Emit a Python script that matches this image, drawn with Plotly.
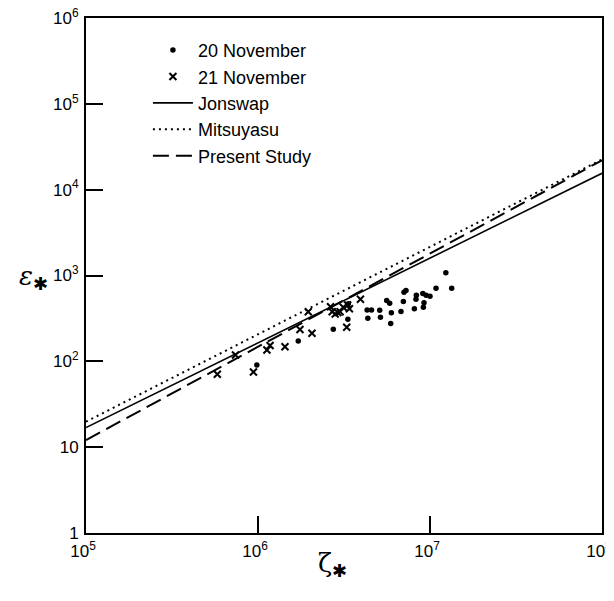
import plotly.graph_objects as go

# ---- data ----
nov20_x = [9.84e5, 1.714e6, 2.74e6, 3.35e6, 3.33e6, 4.31e6, 4.57e6, 4.35e6, 5.10e6, 5.15e6,
           5.60e6, 5.83e6, 5.96e6, 5.91e6, 6.78e6, 7.00e6, 7.06e6, 7.25e6, 8.11e6, 8.33e6,
           8.29e6, 9.08e6, 9.49e6, 1.0e7, 9.23e6, 9.15e6, 1.084e7, 1.337e7, 1.236e7]
nov20_y = [90.7, 172.6, 236, 468, 309, 396, 396, 317, 394, 327,
           511, 476, 369, 276, 381, 498, 637, 669, 409, 590,
           528, 617, 590, 574, 482, 426, 711, 711, 1079]

nov21_x = [5.80e5, 7.40e5, 9.41e5, 1.127e6, 1.175e6, 1.435e6, 1.754e6, 1.96e6, 2.06e6, 2.64e6,
           2.70e6, 2.81e6, 2.91e6, 3.00e6, 3.13e6, 3.32e6, 3.40e6, 3.28e6, 3.94e6]
nov21_y = [70.6, 118.6, 75.1, 135.6, 153, 148.2, 235, 378.7, 212.3, 433,
           378.7, 356, 369, 378.7, 426, 453, 409, 249, 528]

line_x = [1e5, 1e8]
jonswap_y = [16.9, 1.55e4]
mitsuyasu_y = [19.8, 2.25e4]
present_y = [12.1, 2.2e4]

x_tickvals = [1e5, 1e6, 1e7, 1e8]
x_ticktext = ["10<sup>5</sup>", "10<sup>6</sup>", "10<sup>7</sup>", "10<sup>8</sup>"]
y_tickvals = [1, 10, 1e2, 1e3, 1e4, 1e5, 1e6]
y_ticktext = ["1", "10", "10<sup>2</sup>", "10<sup>3</sup>", "10<sup>4</sup>", "10<sup>5</sup>", "10<sup>6</sup>"]

FONT = "Liberation Sans, Arial, Helvetica, sans-serif"

fig = go.Figure()
fig.add_trace(go.Scatter(x=nov20_x, y=nov20_y, mode="markers", name="20 November",
                         marker=dict(symbol="circle", size=5.5, color="black")))
fig.add_trace(go.Scatter(x=nov21_x, y=nov21_y, mode="markers", name="21 November",
                         marker=dict(symbol="x-thin", size=7, color="black",
                                     line=dict(width=2, color="black"))))
fig.add_trace(go.Scatter(x=line_x, y=jonswap_y, mode="lines", name="Jonswap",
                         line=dict(color="black", width=1.6)))
fig.add_trace(go.Scatter(x=line_x, y=mitsuyasu_y, mode="lines", name="Mitsuyasu",
                         line=dict(color="black", width=2, dash="2px,4px")))
fig.add_trace(go.Scatter(x=line_x, y=present_y, mode="lines", name="Present Study",
                         line=dict(color="black", width=2, dash="16px,7px")))

axis_common = dict(type="log", showgrid=False, zeroline=False, showline=True,
                   linecolor="black", linewidth=2, mirror=True, automargin=False,
                   ticks="inside", ticklen=17, tickwidth=1.6, tickcolor="black",
                   ticklabeloverflow="allow",
                   tickfont=dict(family=FONT, size=17, color="black"))

fig.update_xaxes(range=[5, 8], tickvals=x_tickvals, ticktext=x_ticktext,
                 ticklabelstandoff=2, ticklabelshift=-3, **axis_common)
fig.update_yaxes(range=[0, 6], tickvals=y_tickvals, ticktext=y_ticktext,
                 ticklabelstandoff=2, **axis_common)

fig.add_annotation(text="ζ<sub>✱</sub>", xref="paper", yref="paper", x=0.478, y=-0.062,
                   xanchor="center", yanchor="middle", showarrow=False,
                   font=dict(family="DejaVu Serif, serif", size=26, color="black"))
fig.add_annotation(text="<i>ε</i><sub>✱</sub>", xref="paper", yref="paper", x=-0.07, y=0.497,
                   xanchor="right", yanchor="middle", showarrow=False,
                   font=dict(family="DejaVu Serif, serif", size=26, color="black"))

# the page body adds an 8px margin, so the figure is sized to fit inside it
fig.update_layout(
    width=606, height=585,
    margin=dict(l=78, r=12, t=10, b=60),
    paper_bgcolor="white", plot_bgcolor="white",
    showlegend=True,
    legend=dict(x=0.12, y=0.973, xanchor="left", yanchor="top",
                bgcolor="rgba(0,0,0,0)", borderwidth=0,
                font=dict(family=FONT, size=18, color="black"),
                itemwidth=40, tracegroupgap=0),
    font=dict(family=FONT, color="black"),
)

fig.write_html("out.html")
